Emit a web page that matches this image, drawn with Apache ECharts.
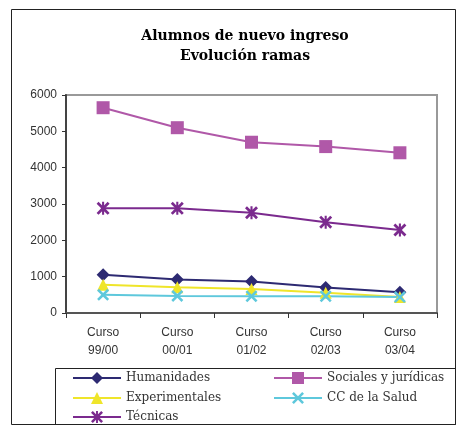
<!DOCTYPE html>
<html>
<head>
<meta charset="utf-8">
<script src="https://cdn.jsdelivr.net/npm/echarts@6/dist/echarts.min.js"></script>
<style>
  html, body { margin: 0; padding: 0; background: #fff; }
  #chart { width: 457px; height: 428px; }
</style>
</head>
<body>
<div id="chart"></div>
<script>
// cursos académicos
const categories = ['Curso\n99/00', 'Curso\n00/01', 'Curso\n01/02', 'Curso\n02/03', 'Curso\n03/04']

// alumnos de nuevo ingreso por rama
const humanidades = [1050, 920, 870, 700, 570]
const sociales = [5650, 5100, 4700, 4580, 4410]
const experimentales = [780, 710, 660, 560, 440]
const ccSalud = [500, 470, 460, 460, 440]
const tecnicas = [2880, 2880, 2760, 2500, 2285]

const yTicks = [0, 1000, 2000, 3000, 4000, 5000, 6000]

// marcadores tipo Excel
const xMark = 'path://M0,1.5L1.5,0L5,3.5L8.5,0L10,1.5L6.5,5L10,8.5L8.5,10L5,6.5L1.5,10L0,8.5L3.5,5Z'
const starMark = xMark.replace('Z', 'ZM4.2,0L5.8,0L5.8,10L4.2,10Z')

const serif = '"DejaVu Serif", serif'
const sans = '"Liberation Sans", Arial, sans-serif'

const chart = echarts.init(document.getElementById('chart'))

const mkSeries = (name, data, color, symbol, size) => ({
  name,
  type: 'line',
  data,
  symbol,
  symbolSize: size,
  showAllSymbol: true,
  lineStyle: { color, width: 2 },
  itemStyle: { color },
  emphasis: { disabled: true },
  animation: false
})

const legendItem = (name, left, top) => ({
  data: [name],
  left,
  top,
  padding: 0,
  itemWidth: 48,
  itemHeight: 15,
  itemGap: 0,
  textStyle: { fontFamily: serif, fontSize: 12, color: '#333' }
})

const option = {
  backgroundColor: '#fff',
  title: {
    text: 'Alumnos de nuevo ingreso\nEvolución ramas',
    left: 240,
    textAlign: 'center',
    top: 21,
    textStyle: { fontFamily: serif, fontSize: 14, fontWeight: 'bold', color: '#000', lineHeight: 20 }
  },
  graphic: [
    { type: 'rect', shape: { x: 11.5, y: 9.5, width: 444, height: 415 }, style: { fill: 'none', stroke: '#222', lineWidth: 1 }, silent: true },
    { type: 'rect', shape: { x: 55.5, y: 368.5, width: 400, height: 56 }, style: { fill: 'none', stroke: '#222', lineWidth: 1 }, silent: true }
  ],
  legend: [
    legendItem('Humanidades', 72, 372),
    legendItem('Sociales y jurídicas', 273, 372),
    legendItem('Experimentales', 72, 392),
    legendItem('CC de la Salud', 273, 392),
    legendItem('Técnicas', 72, 411)
  ],
  grid: {
    left: 66,
    right: 20,
    top: 95,
    bottom: 115,
    show: true,
    borderColor: '#999',
    borderWidth: 2
  },
  xAxis: {
    type: 'category',
    data: categories,
    axisLine: { lineStyle: { color: '#555', width: 2 } },
    axisTick: { show: true, length: 5, lineStyle: { color: '#333' } },
    axisLabel: { fontFamily: sans, fontSize: 12, color: '#333', lineHeight: 18, margin: 11 }
  },
  yAxis: {
    type: 'value',
    min: 0,
    max: 6000,
    interval: 1000,
    axisLine: { show: true, lineStyle: { color: '#444', width: 2 } },
    axisTick: { show: true, length: 4, lineStyle: { color: '#333' } },
    splitLine: { show: false },
    axisLabel: {
      fontFamily: sans,
      fontSize: 12,
      color: '#333',
      margin: 9,
      formatter: v => (yTicks.includes(v) ? String(v) : '')
    }
  },
  series: [
    mkSeries('Humanidades', humanidades, '#2d2a72', 'diamond', 13),
    mkSeries('Sociales y jurídicas', sociales, '#b058a8', 'rect', 13),
    mkSeries('Experimentales', experimentales, '#efe52a', 'triangle', 12),
    mkSeries('CC de la Salud', ccSalud, '#5ec8dc', xMark, 12),
    mkSeries('Técnicas', tecnicas, '#7b2a8e', starMark, 13)
  ]
}

chart.setOption(option)
</script>
</body>
</html>
